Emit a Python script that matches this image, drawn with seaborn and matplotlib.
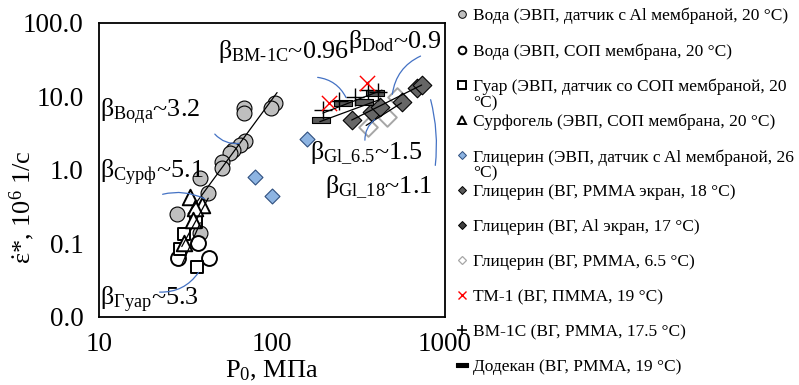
import numpy as np
import pandas as pd
import matplotlib
matplotlib.use("Agg")
import matplotlib.pyplot as plt
import seaborn as sns
from matplotlib.path import Path
from matplotlib.lines import Line2D
from matplotlib.ticker import NullLocator, FixedLocator, FixedFormatter

# ---------------- data ----------------
water_al_x = [69.2, 69.2, 104, 98.7, 69.8, 65.3, 59.7, 57.2, 51.2, 51.2, 38.4, 42.8, 28.1, 38.6]
water_al_y = [6.84, 5.85, 8.0, 6.84, 2.46, 2.17, 1.85, 1.67, 1.28, 1.04, 0.76, 0.48, 0.25, 0.136]

water_sop_x = [28.8, 43.5, 37.5]
water_sop_y = [0.063, 0.062, 0.102]

guar_x = [36.4, 31.0, 29.4, 36.7]
guar_y = [0.194, 0.133, 0.083, 0.047]

surf_x = [33.6, 39.2, 35.9, 35.1, 31.0]
surf_y = [0.43, 0.33, 0.30, 0.21, 0.10]

gly_evp_x = [80, 100, 160]
gly_evp_y = [0.80, 0.44, 2.6]

gly_pmma18_x = [564, 686, 733]
gly_pmma18_y = [8.4, 12.8, 14.2]

gly_al17_x = [289, 377, 421]
gly_al17_y = [4.74, 6.15, 7.2]

gly_pmma65_x = [359, 460, 526]
gly_pmma65_y = [3.81, 5.26, 9.84]

tm1_x = [353, 214]
tm1_y = [15.0, 8.16]

bm1c_x = [197, 244, 302, 359, 410]
bm1c_y = [6.49, 8.6, 9.84, 12.1, 11.4]

dod_x = [192, 257, 340, 394]
dod_y = [4.74, 8.0, 8.34, 10.96]

# trend lines (end points)
fit_water_x, fit_water_y = [32.7, 107], [0.25, 11.2]
fit_surf_x, fit_surf_y = [30.1, 42.8], [0.09, 0.41]
fit_guar_x, fit_guar_y = [30.0, 38.5], [0.05, 0.19]
fit_bm_x, fit_bm_y = [197, 432], [5.9, 12.1]
fit_dod_x, fit_dod_y = [189, 420], [4.5, 9.0]
fit_gl65_x, fit_gl65_y = [350, 560], [4.0, 8.1]
fit_gl18_x, fit_gl18_y = [289, 733], [4.74, 14.2]

legend_labels = [
    "Вода (ЭВП, датчик с Al мембраной, 20 °C)",
    "Вода (ЭВП, СОП мембрана, 20 °C)",
    "Гуар (ЭВП, датчик со СОП мембраной, 20",
    "Сурфогель (ЭВП, СОП мембрана, 20 °C)",
    "Глицерин (ЭВП, датчик с Al мембраной, 26",
    "Глицерин (ВГ, PMMA экран, 18 °C)",
    "Глицерин (ВГ, Al экран, 17 °C)",
    "Глицерин (ВГ, PMMA, 6.5 °C)",
    "ТМ-1 (ВГ, ПММА, 19 °C)",
    "ВМ-1С (ВГ, PMMA, 17.5 °C)",
    "Додекан (ВГ, PMMA, 19 °C)",
]
wrap_tail = "°C)"

x_ticks = [10, 100, 1000]
x_tick_labels = ["10", "100", "1000"]
y_ticks = [0.01, 0.1, 1, 10, 100]
y_tick_labels = ["0.0", "0.1", "1.0", "10.0", "100.0"]

annotations = [
    ("β$_{\\mathrm{Вода}}$~3.2", 10.15, 5.2),
    ("β$_{\\mathrm{Сурф}}$~5.1", 10.15, 0.77),
    ("β$_{\\mathrm{Гуар}}$~5.3", 10.15, 0.0144),
    ("β$_{\\mathrm{BM\\text{-}1C}}$~0.96", 48.7, 33.1),
    ("β$_{\\mathrm{Dod}}$~0.9", 275, 45.3),
    ("β$_{\\mathrm{Gl\\_6.5}}$~1.5", 166, 1.36),
    ("β$_{\\mathrm{Gl\\_18}}$~1.1", 202, 0.48),
]

callouts = [
    ((45.6, 3.26), (67.1, 2.31), 0.3),
    ((22.5, 0.453), (42.1, 0.387), -0.2),
    ((21.6, 0.0217), (38.4, 0.0431), 0.3),
    ((177, 18.2), (272, 8.87), -0.3),
    ((747, 36.4), (494, 9.75), 0.3),
    ((345, 2.31), (405, 5.05), -0.3),
    ((875, 1.05), (818, 9.75), 0.1),
]

# ---------------- style ----------------
sns.set_theme(style="white")
plt.rcParams["font.family"] = ["Liberation Serif", "DejaVu Serif"]
plt.rcParams["mathtext.fontset"] = "custom"
plt.rcParams["mathtext.rm"] = "Liberation Serif"
plt.rcParams["mathtext.it"] = "Liberation Serif:italic"
plt.rcParams["mathtext.bf"] = "Liberation Serif:bold"
plt.rcParams["text.color"] = "black"

W, H = 799, 385
fig = plt.figure(figsize=(W / 100, H / 100), dpi=100)
ax = fig.add_axes([99 / W, 1 - 316.7 / H, 346 / W, 294 / H])
ax.set_facecolor("white")

bar_marker = Path([(-1, -0.28), (1, -0.28), (1, 0.28), (-1, 0.28), (-1, -0.28)],
                  [Path.MOVETO, Path.LINETO, Path.LINETO, Path.LINETO, Path.CLOSEPOLY])

ax.set_xscale("log")
ax.set_yscale("log")

def sc(x, y, **kw):
    sns.scatterplot(x=x, y=y, ax=ax, legend=False, **kw)

sc(water_al_x, water_al_y, marker="o", s=115, color="#BFBFBF", edgecolor="black", linewidth=0.8, zorder=3)
sc(water_sop_x, water_sop_y, marker="o", s=115, color="white", edgecolor="black", linewidth=1.4, zorder=3)
sc(guar_x, guar_y, marker="s", s=85, color="white", edgecolor="black", linewidth=1.4, zorder=3)
sc(surf_x, surf_y, marker="^", s=125, color="white", edgecolor="black", linewidth=1.4, zorder=4)
sc(gly_evp_x, gly_evp_y, marker="D", s=58, color="#8DB4E2", edgecolor="#2F4F7F", linewidth=0.8, zorder=3)
sc(gly_pmma65_x, gly_pmma65_y, marker="D", s=90, color="white", edgecolor="#A6A6A6", linewidth=1.4, zorder=3)
sc(gly_al17_x, gly_al17_y, marker="D", s=90, color="#666666", edgecolor="black", linewidth=0.8, zorder=3)
sc(gly_pmma18_x, gly_pmma18_y, marker="D", s=90, color="#666666", edgecolor="black", linewidth=0.8, zorder=3)
sc(dod_x, dod_y, marker=bar_marker, s=180, color="#595959", edgecolor="black", linewidth=0.8, zorder=4)
sc(bm1c_x, bm1c_y, marker="+", s=180, color="black", linewidth=1.0, zorder=5)
sc(tm1_x, tm1_y, marker="x", s=120, color="red", linewidth=1.0, zorder=5)

for fx, fy in [(fit_water_x, fit_water_y), (fit_surf_x, fit_surf_y), (fit_guar_x, fit_guar_y),
               (fit_bm_x, fit_bm_y), (fit_dod_x, fit_dod_y), (fit_gl65_x, fit_gl65_y),
               (fit_gl18_x, fit_gl18_y)]:
    sns.lineplot(x=fx, y=fy, ax=ax, color="black", linewidth=0.9, zorder=6, legend=False)

ax.set_xlim(10, 1000)
ax.set_ylim(0.01, 100)
ax.xaxis.set_major_locator(FixedLocator(x_ticks))
ax.xaxis.set_major_formatter(FixedFormatter(x_tick_labels))
ax.yaxis.set_major_locator(FixedLocator(y_ticks))
ax.yaxis.set_major_formatter(FixedFormatter(y_tick_labels))
ax.xaxis.set_minor_locator(NullLocator())
ax.yaxis.set_minor_locator(NullLocator())
ax.tick_params(axis="both", length=0, labelsize=19.5, colors="black")
ax.tick_params(axis="x", pad=11)
ax.tick_params(axis="y", pad=11)
ax.grid(False)
for s in ax.spines.values():
    s.set_visible(True)
    s.set_color("black")
    s.set_linewidth(1.3)

for txt, tx, ty in annotations:
    ax.text(tx, ty, txt, fontsize=18.8, ha="left", va="baseline", color="black", zorder=7)

for (x0, y0), (x1, y1), rad in callouts:
    ax.annotate("", xy=(x1, y1), xytext=(x0, y0),
                arrowprops=dict(arrowstyle="-", color="#4472C4", lw=0.9,
                                connectionstyle=f"arc3,rad={rad}"), zorder=7)

fig.text(22 / W, 1 - 207 / H, "$\\mathrm{\\dot{ε}}$*, 10$^{\\mathrm{6}}$ 1/с",
         rotation=90, fontsize=19, ha="center", va="center")
fig.text(272 / W, 1 - 371 / H, "P$_{\\mathrm{0}}$, МПа", fontsize=19, ha="center", va="center")

# legend
handles = [
    Line2D([], [], ls="", marker="o", ms=5.5, mfc="#BFBFBF", mec="black", mew=0.7),
    Line2D([], [], ls="", marker="o", ms=5.5, mfc="white", mec="black", mew=1.4),
    Line2D([], [], ls="", marker="s", ms=5.5, mfc="white", mec="black", mew=1.4),
    Line2D([], [], ls="", marker="^", ms=5.5, mfc="white", mec="black", mew=1.4),
    Line2D([], [], ls="", marker="D", ms=4.5, mfc="#8DB4E2", mec="#2F4F7F", mew=0.7),
    Line2D([], [], ls="", marker="D", ms=4.5, mfc="#595959", mec="black", mew=0.7),
    Line2D([], [], ls="", marker="D", ms=4.5, mfc="#404040", mec="black", mew=0.7),
    Line2D([], [], ls="", marker="D", ms=4.5, mfc="white", mec="#A6A6A6", mew=0.9),
    Line2D([], [], ls="", marker="x", ms=6, color="red", mew=1.0),
    Line2D([], [], ls="", marker="+", ms=7, color="black", mew=1.2),
    Line2D([], [], ls="", marker=bar_marker, ms=8, mfc="black", mec="black", mew=0.8),
]
leg = fig.legend(handles, legend_labels, loc="upper left",
                 bbox_to_anchor=(455 / W, 1 - 8 / H), frameon=False, fontsize=12.5,
                 handlelength=0.8, handletextpad=0.22, labelspacing=1.08, borderpad=0,
                 borderaxespad=0)

fig.canvas.draw()
renderer = fig.canvas.get_renderer()
for idx in (2, 4):
    t = leg.get_texts()[idx]
    bb = t.get_window_extent(renderer)
    yc = (bb.y0 + bb.y1) / 2 - 16.5
    fig.text(bb.x0 / W, yc / H, wrap_tail, fontsize=12.5, ha="left", va="center")

fig.savefig("out.png", dpi=100, facecolor="white")
